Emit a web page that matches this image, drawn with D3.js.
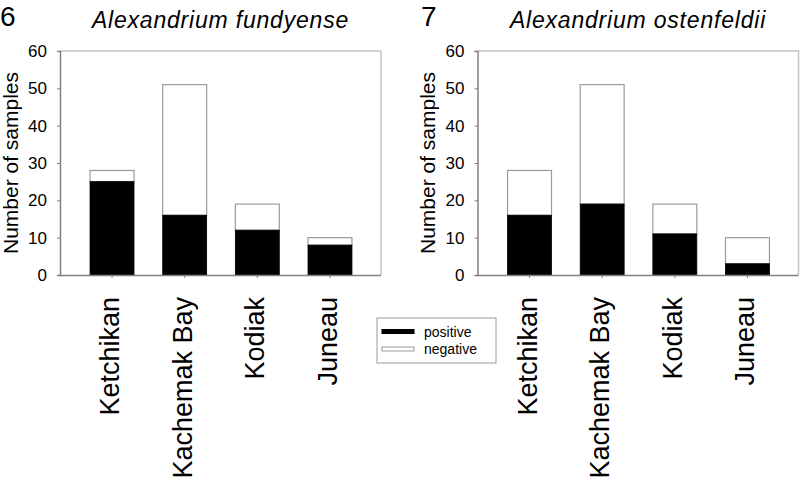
<!DOCTYPE html>
<html><head><meta charset="utf-8">
<script src="https://cdn.jsdelivr.net/npm/d3@7"></script>
<style>
html,body{margin:0;padding:0;background:#fff;}
svg{display:block;font-family:"Liberation Sans",Arial,sans-serif;}
</style></head>
<body>
<svg id="chart" width="800" height="479"></svg>
<script>
const sites = ["Ketchikan", "Kachemak Bay", "Kodiak", "Juneau"];
const panelLabels = ["6", "7"];
const speciesNames = ["Alexandrium fundyense", "Alexandrium ostenfeldii"];
const fundyensePositive = [25, 16, 12, 8];
const fundyenseTotal = [28, 51, 19, 10];
const ostenfeldiiPositive = [16, 19, 11, 3];
const ostenfeldiiTotal = [28, 51, 19, 10];
const yTicks = [0, 10, 20, 30, 40, 50, 60];
const legendLabels = ["positive", "negative"];

const panels = [
  {num: panelLabels[0], title: speciesNames[0], pos: fundyensePositive, tot: fundyenseTotal, left: 60, numX: 0},
  {num: panelLabels[1], title: speciesNames[1], pos: ostenfeldiiPositive, tot: ostenfeldiiTotal, left: 477.5, numX: 421}
];

const svg = d3.select("#chart");
const plotTop = 51, plotBottom = 275, frameW = 321;

const y = d3.scaleLinear().domain([0, 60]).range([plotBottom, plotTop]);

panels.forEach(p => {
  const g = svg.append("g");
  const x = d3.scaleBand().domain(sites)
    .range([p.left + 15.7, p.left + 306.3])
    .paddingInner(0.395).paddingOuter(0.1975);

  // frame top/right
  g.append("path")
    .attr("d", `M${p.left},${plotTop}H${Math.min(p.left + frameW, 799.5)}V${plotBottom}`)
    .attr("fill", "none").attr("stroke", "#c4c4c4").attr("stroke-width", 1.5);

  // bars
  sites.forEach((s, i) => {
    g.append("rect")
      .attr("x", x(s)).attr("width", x.bandwidth())
      .attr("y", y(p.tot[i])).attr("height", y(p.pos[i]) - y(p.tot[i]))
      .attr("fill", "#fff").attr("stroke", "#9a9a9a").attr("stroke-width", 1.2);
    g.append("rect")
      .attr("x", x(s)).attr("width", x.bandwidth())
      .attr("y", y(p.pos[i])).attr("height", y(0) - y(p.pos[i]))
      .attr("fill", "#000").attr("stroke", "#000").attr("stroke-width", 0.8);
  });

  // y axis
  const ya = g.append("g").attr("transform", `translate(${p.left},0)`)
    .call(d3.axisLeft(y).tickValues(yTicks).tickSize(3).tickPadding(10));
  ya.select(".domain").attr("stroke", "#808080").attr("stroke-width", 1.5);
  ya.selectAll(".tick line").attr("stroke", "#808080");
  ya.selectAll(".tick text").attr("font-size", 17).attr("fill", "#000")
    .attr("font-family", "Liberation Sans, Arial, sans-serif");

  // x axis
  const xa = g.append("g").attr("transform", `translate(0,${plotBottom})`)
    .call(d3.axisBottom(x).tickSize(3).tickSizeOuter(0));
  xa.select(".domain").attr("d", `M${p.left},0.5H${Math.min(p.left + frameW, 799.5)}`)
    .attr("stroke", "#808080").attr("stroke-width", 1.5);
  xa.selectAll(".tick line").attr("stroke", "#808080");
  xa.selectAll(".tick text")
    .attr("font-size", 27).attr("fill", "#000")
    .attr("font-family", "Liberation Sans, Arial, sans-serif")
    .attr("text-anchor", "end")
    .attr("transform", "translate(7,22) rotate(-90)")
    .attr("x", 0).attr("y", 0).attr("dy", 0);

  // y title
  g.append("text")
    .attr("transform", `translate(${p.left - 42.5},${(plotTop + plotBottom) / 2}) rotate(-90)`)
    .attr("text-anchor", "middle").attr("font-size", 21)
    .text("Number of samples");

  // title
  g.append("text")
    .attr("x", p.left + frameW / 2).attr("y", 28)
    .attr("text-anchor", "middle").attr("font-size", 23)
    .attr("font-style", "italic").attr("letter-spacing", 0.8)
    .text(p.title);

  // panel number
  g.append("text").attr("x", p.numX).attr("y", 25.5)
    .attr("font-size", 28).text(p.num);
});

// legend
const lg = svg.append("g");
lg.append("rect").attr("x", 377).attr("y", 318).attr("width", 119).attr("height", 45)
  .attr("fill", "#fff").attr("stroke", "#9a9a9a").attr("stroke-width", 1);
const legendFill = ["#000", "#fff"];
const legendStroke = ["#000", "#9a9a9a"];
legendLabels.forEach((l, i) => {
  lg.append("rect").attr("x", 382).attr("y", 329.5 + i * 17.5).attr("width", 32).attr("height", 4)
    .attr("fill", legendFill[i]).attr("stroke", legendStroke[i]).attr("stroke-width", 1);
  lg.append("text").attr("x", 424).attr("y", 336.5 + i * 17)
    .attr("font-size", 14).text(l);
});
</script>
</body></html>
